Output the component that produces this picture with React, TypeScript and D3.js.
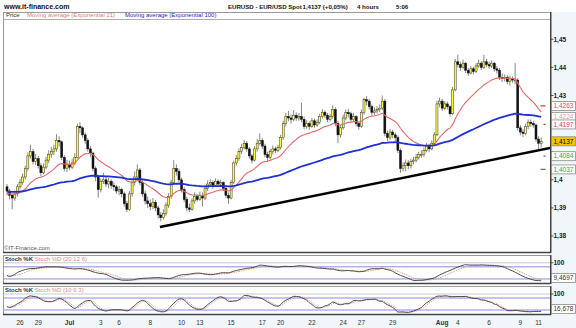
import React from 'react';
import * as d3 from 'd3';

// ---- data (4-hour EUR/USD bars) ----
const firstOpen = 1.3975;
const closes = [
  1.3960, 1.3945, 1.3935, 1.3950, 1.3975, 1.3990, 1.4010, 1.4040, 1.4085, 1.4100,
  1.4065, 1.4075, 1.4050, 1.4025, 1.4045, 1.4070, 1.4090, 1.4100, 1.4110, 1.4140,
  1.4135, 1.4080, 1.4040, 1.4055, 1.4045, 1.4060, 1.4080, 1.4190, 1.4185, 1.4160,
  1.4140, 1.4110, 1.4095, 1.4040, 1.4010, 1.3965, 1.3995, 1.4000, 1.3985, 1.3995,
  1.3980, 1.3975, 1.3960, 1.3965, 1.3950, 1.3915, 1.3895, 1.3950, 1.3990, 1.4010,
  1.4035, 1.3990, 1.3950, 1.3925, 1.3915, 1.3905, 1.3920, 1.3900, 1.3875, 1.3865,
  1.3880, 1.3910, 1.3940, 1.3990, 1.4040, 1.4030, 1.4000, 1.3965, 1.3930, 1.3900,
  1.3895, 1.3925, 1.3940, 1.3930, 1.3945, 1.3935, 1.3970, 1.3985, 1.3990, 1.3980,
  1.3995, 1.3985, 1.3990, 1.3970, 1.3945, 1.3935, 1.3990, 1.4060, 1.4075, 1.4100,
  1.4115, 1.4130, 1.4110, 1.4085, 1.4070, 1.4110, 1.4130, 1.4140, 1.4120, 1.4090,
  1.4080, 1.4100, 1.4110, 1.4105, 1.4115, 1.4150, 1.4200, 1.4225, 1.4220, 1.4215,
  1.4230, 1.4220, 1.4225, 1.4215, 1.4190, 1.4200, 1.4190, 1.4210, 1.4195, 1.4205,
  1.4225, 1.4240, 1.4230, 1.4215, 1.4225, 1.4250, 1.4200, 1.4160, 1.4185, 1.4220,
  1.4240, 1.4235, 1.4215, 1.4225, 1.4200, 1.4190, 1.4240, 1.4285, 1.4280, 1.4260,
  1.4240, 1.4245, 1.4250, 1.4255, 1.4280, 1.4165, 1.4150, 1.4170, 1.4160, 1.4150,
  1.4105, 1.4040, 1.4050, 1.4060, 1.4050, 1.4065, 1.4070, 1.4080, 1.4090, 1.4090,
  1.4105, 1.4120, 1.4110, 1.4130, 1.4160, 1.4270, 1.4280, 1.4255, 1.4270, 1.4260,
  1.4235, 1.4320, 1.4420, 1.4410, 1.4400, 1.4415, 1.4390, 1.4380, 1.4395, 1.4385,
  1.4405, 1.4415, 1.4400, 1.4420, 1.4410, 1.4405, 1.4415, 1.4395, 1.4390, 1.4365,
  1.4360, 1.4365, 1.4350, 1.4360, 1.4355, 1.4355, 1.4185, 1.4170, 1.4165, 1.4190,
  1.4205, 1.4200, 1.4195, 1.4145, 1.4130, 1.4137,
];
const highs = [
  1.3985, 1.3968, 1.3952, 1.3962, 1.3985, 1.4002, 1.4022, 1.4050, 1.4098, 1.4125,
  1.4110, 1.4092, 1.4085, 1.4060, 1.4058, 1.4082, 1.4105, 1.4118, 1.4125, 1.4162,
  1.4155, 1.4140, 1.4088, 1.4070, 1.4068, 1.4075, 1.4095, 1.4200, 1.4205, 1.4190,
  1.4168, 1.4148, 1.4120, 1.4100, 1.4048, 1.4018, 1.4005, 1.4025, 1.4010, 1.4008,
  1.4002, 1.3992, 1.3982, 1.3978, 1.3972, 1.3958, 1.3925, 1.3960, 1.4002, 1.4030,
  1.4055, 1.4042, 1.3998, 1.3962, 1.3940, 1.3930, 1.3935, 1.3928, 1.3908, 1.3885,
  1.3895, 1.3920, 1.3952, 1.4000, 1.4070, 1.4055, 1.4040, 1.4008, 1.3975, 1.3940,
  1.3915, 1.3935, 1.3955, 1.3948, 1.3958, 1.3955, 1.3980, 1.3998, 1.4002, 1.3998,
  1.4005, 1.4002, 1.4000, 1.3995, 1.3978, 1.3955, 1.4000, 1.4068, 1.4088, 1.4112,
  1.4128, 1.4142, 1.4138, 1.4118, 1.4092, 1.4120, 1.4145, 1.4165, 1.4148, 1.4128,
  1.4100, 1.4110, 1.4122, 1.4118, 1.4125, 1.4160, 1.4210, 1.4238, 1.4245, 1.4232,
  1.4248, 1.4240, 1.4238, 1.4275, 1.4225, 1.4212, 1.4208, 1.4220, 1.4218, 1.4215,
  1.4235, 1.4252, 1.4248, 1.4238, 1.4235, 1.4265, 1.4258, 1.4210, 1.4195, 1.4232,
  1.4250, 1.4252, 1.4242, 1.4238, 1.4230, 1.4208, 1.4250, 1.4292, 1.4298, 1.4288,
  1.4268, 1.4258, 1.4262, 1.4268, 1.4300, 1.4288, 1.4175, 1.4182, 1.4178, 1.4168,
  1.4158, 1.4112, 1.4062, 1.4072, 1.4070, 1.4075, 1.4082, 1.4092, 1.4100, 1.4105,
  1.4115, 1.4132, 1.4128, 1.4140, 1.4170, 1.4282, 1.4292, 1.4288, 1.4280, 1.4278,
  1.4265, 1.4330, 1.4430, 1.4445, 1.4420, 1.4428, 1.4420, 1.4398, 1.4405, 1.4402,
  1.4415, 1.4428, 1.4422, 1.4445, 1.4430, 1.4420, 1.4425, 1.4420, 1.4405, 1.4398,
  1.4378, 1.4375, 1.4372, 1.4370, 1.4368, 1.4415, 1.4362, 1.4195, 1.4180, 1.4200,
  1.4215, 1.4215, 1.4210, 1.4200, 1.4155, 1.4150,
];
const lows = [
  1.3945, 1.3930, 1.3895, 1.3925, 1.3940, 1.3965, 1.3982, 1.4000, 1.4032, 1.4075,
  1.4055, 1.4052, 1.4040, 1.4012, 1.4020, 1.4038, 1.4060, 1.4078, 1.4088, 1.4100,
  1.4118, 1.4070, 1.4030, 1.4028, 1.4035, 1.4038, 1.4052, 1.4075, 1.4165, 1.4150,
  1.4128, 1.4100, 1.4082, 1.4030, 1.3995, 1.3936, 1.3955, 1.3985, 1.3975, 1.3970,
  1.3968, 1.3960, 1.3950, 1.3945, 1.3938, 1.3905, 1.3885, 1.3890, 1.3940, 1.3980,
  1.4000, 1.3980, 1.3940, 1.3912, 1.3900, 1.3892, 1.3895, 1.3888, 1.3862, 1.3852,
  1.3858, 1.3872, 1.3900, 1.3932, 1.3982, 1.4015, 1.3990, 1.3955, 1.3920, 1.3888,
  1.3885, 1.3890, 1.3915, 1.3922, 1.3925, 1.3905, 1.3928, 1.3960, 1.3975, 1.3968,
  1.3975, 1.3975, 1.3978, 1.3960, 1.3935, 1.3915, 1.3930, 1.3985, 1.4050, 1.4068,
  1.4092, 1.4108, 1.4100, 1.4075, 1.4058, 1.4065, 1.4100, 1.4122, 1.4110, 1.4080,
  1.4065, 1.4072, 1.4090, 1.4095, 1.4098, 1.4108, 1.4142, 1.4190, 1.4208, 1.4200,
  1.4208, 1.4210, 1.4210, 1.4205, 1.4180, 1.4182, 1.4178, 1.4185, 1.4185, 1.4188,
  1.4198, 1.4218, 1.4220, 1.4205, 1.4208, 1.4218, 1.4190, 1.4130, 1.4150, 1.4178,
  1.4212, 1.4222, 1.4205, 1.4208, 1.4190, 1.4178, 1.4185, 1.4232, 1.4265, 1.4250,
  1.4228, 1.4230, 1.4235, 1.4240, 1.4248, 1.4155, 1.4138, 1.4142, 1.4148, 1.4138,
  1.4095, 1.4025, 1.4030, 1.4030, 1.4038, 1.4040, 1.4055, 1.4062, 1.4072, 1.4078,
  1.4082, 1.4098, 1.4098, 1.4105, 1.4125, 1.4155, 1.4258, 1.4245, 1.4248, 1.4250,
  1.4225, 1.4230, 1.4315, 1.4400, 1.4388, 1.4395, 1.4380, 1.4370, 1.4375, 1.4375,
  1.4380, 1.4398, 1.4390, 1.4395, 1.4400, 1.4395, 1.4398, 1.4385, 1.4378, 1.4355,
  1.4348, 1.4350, 1.4340, 1.4335, 1.4345, 1.4340, 1.4175, 1.4158, 1.4152, 1.4158,
  1.4180, 1.4188, 1.4185, 1.4135, 1.4105, 1.4115,
];
const ema21Seed = 1.3950;
const ema100Seed = 1.3958;

// x axis: first bar index of each labelled day
const dayTicks = [
  { i: 5, label: '26' }, { i: 12, label: '29' }, { i: 24, label: 'Jul', bold: true },
  { i: 36, label: '3' }, { i: 43, label: '6' }, { i: 55, label: '8' },
  { i: 67, label: '10' }, { i: 74, label: '13' }, { i: 86, label: '15' },
  { i: 98, label: '17' }, { i: 105, label: '20' }, { i: 117, label: '22' },
  { i: 129, label: '24' }, { i: 136, label: '27' }, { i: 148, label: '29' },
  { i: 167, label: 'Aug', bold: true }, { i: 173, label: '4' }, { i: 185, label: '6' },
  { i: 197, label: '9' }, { i: 204, label: '11' },
];
const priceTicks = [1.38, 1.39, 1.40, 1.41, 1.42, 1.43, 1.44, 1.45];
const levels = [
  { v: 1.4263, text: '#d85050', dash: '#e03838', dashLen: 5 },
  { v: 1.4224, text: '#e89a9a', dash: null, dashLen: 0 },
  { v: 1.4197, text: '#d83c3c', dash: '#e03838', dashLen: 2 },
  { v: 1.4137, text: '#000000', dash: null, dashLen: 0, current: true },
  { v: 1.4084, text: '#3c9a3c', dash: '#557755', dashLen: 2 },
  { v: 1.4037, text: '#3c9a3c', dash: '#3c8a3c', dashLen: 5 },
];
const trendLine = [ { i: 58.7, p: 1.3832 }, { i: 208.4, p: 1.4113 } ];
const stoch1Params = [20, 12, 6];
const stoch2Params = [10, 6, 3];
const stoch1Last = '9,4697';
const stoch2Last = '16,678';

// ---- helpers ----
const FONT = '"Liberation Sans", Arial, sans-serif';
const fmtPrice = (v: number) => v.toFixed(2).replace(/0$/, '').replace('.', ',');
const fmt4 = (v: number) => v.toFixed(4).replace('.', ',');

function ema(values: number[], period: number, seed: number) {
  const a = 2 / (period + 1);
  let e = seed;
  return values.map((c) => (e = e + a * (c - e)));
}
function sma(arr: number[], p: number) {
  return arr.map((_, i) => d3.mean(arr.slice(Math.max(0, i - p + 1), i + 1)) as number);
}
function stoch(n: number, slow: number, dp: number) {
  const raw = closes.map((c, i) => {
    const s = Math.max(0, i - n + 1);
    const hh = d3.max(highs.slice(s, i + 1)) as number;
    const ll = d3.min(lows.slice(s, i + 1)) as number;
    return hh === ll ? 50 : (100 * (c - ll)) / (hh - ll);
  });
  const k = sma(raw, slow);
  const d = sma(k, dp);
  return { k, d };
}

const W = 576, H = 328;
const PL = 3, PR = 550;
const MAIN = { top: 12, legend: 19.5, bottom: 252 };
const P1 = { top: 255, bottom: 283 };
const P2 = { top: 286, bottom: 314 };

export default function App() {
  const x = d3.scaleLinear().domain([0, 205]).range([7, 541.2]);
  const y = d3.scaleLinear().domain([1.38, 1.45]).range([236, 39.3]);
  const ys1 = d3.scaleLinear().domain([0, 100]).range([283, 262.8]);
  const ys2 = d3.scaleLinear().domain([0, 100]).range([314, 294]);

  const opens = closes.map((_, i) => (i === 0 ? firstOpen : closes[i - 1]));
  const e21 = ema(closes, 21, ema21Seed);
  const e100 = ema(closes, 100, ema100Seed);
  const s1 = stoch(stoch1Params[0], stoch1Params[1], stoch1Params[2]);
  const s2 = stoch(stoch2Params[0], stoch2Params[1], stoch2Params[2]);

  const lineP = (arr: number[]) =>
    d3.line<number>().x((_, i) => x(i)).y((v) => y(v))(arr) || '';
  const lineS = (arr: number[], sc: d3.ScaleLinear<number, number>) =>
    d3.line<number>().x((_, i) => x(i)).y((v) => sc(v)).curve(d3.curveMonotoneX)(arr) || '';

  const bw = 2;

  // tick labels that sit under a level box are hidden by it in the reference
  const visibleTicks = priceTicks.filter((t) => levels.every((l) => Math.abs(y(l.v) - y(t)) > 8));

  const panelFrame = (top: number, bottom: number) => (
    <g>
      <rect x={PL + 0.5} y={top + 0.5} width={PR - PL} height={bottom - top} fill="#fff" stroke="#9a9a9a" strokeWidth={1} />
      <line x1={PL} x2={PR + 1} y1={bottom + 0.5} y2={bottom + 0.5} stroke="#444" strokeWidth={1.6} />
      <line x1={PR + 0.8} x2={PR + 0.8} y1={top} y2={bottom + 1} stroke="#333" strokeWidth={1.3} />
    </g>
  );

  const stochPanel = (
    top: number, bottom: number, sc: d3.ScaleLinear<number, number>,
    s: { k: number[]; d: number[] }, params: number[], last: string, clipId: string,
  ) => {
    const lastY = Math.min(bottom - 5, sc(parseFloat(last.replace(',', '.'))));
    return (
      <g>
        {panelFrame(top, bottom)}
        <text x={5} y={top + 6.3} fontSize={6} fontFamily={FONT}>
          <tspan fill="#333" fontWeight="bold">Stoch %K </tspan>
          <tspan fill="#e08a8a">Stoch %D ({params.join(' ')})</tspan>
        </text>
        <line x1={PL + 1} x2={PR} y1={sc(100)} y2={sc(100)} stroke="#bdbdbd" strokeWidth={0.8} />
        <line x1={PL + 1} x2={PR} y1={sc(80)} y2={sc(80)} stroke="#8a8ae6" strokeWidth={1} />
        <line x1={PL + 1} x2={PR} y1={sc(20)} y2={sc(20)} stroke="#8a8ae6" strokeWidth={1} />
        <g clipPath={`url(#${clipId})`}>
          <path d={lineS(s.d, sc)} fill="none" stroke="#e39a9a" strokeWidth={1} strokeDasharray="1.5,1" />
          <path d={lineS(s.k, sc)} fill="none" stroke="#3a3a3a" strokeWidth={0.9} />
        </g>
        <line x1={PR + 1} x2={PR + 3.5} y1={sc(100)} y2={sc(100)} stroke="#333" strokeWidth={0.8} />
        <text x={553.5} y={sc(100) + 2.3} fontSize={6.5} fontWeight="bold" fontFamily={FONT} fill="#222">100</text>
        <rect x={551.5} y={lastY - 4.5} width={24} height={9} fill="#fff" stroke="#8a8a8a" strokeWidth={0.8} />
        <text x={553.5} y={lastY + 2.3} fontSize={6.5} fontFamily={FONT} fill="#333">{last}</text>
      </g>
    );
  };

  return (
    <svg width={W} height={H} style={{ position: 'absolute', left: 0, top: 0, background: '#fff' }}>
      <defs>
        <clipPath id="clipMain"><rect x={PL + 1} y={MAIN.legend + 0.5} width={PR - PL - 1} height={MAIN.bottom - MAIN.legend - 1} /></clipPath>
        <clipPath id="clipS1"><rect x={PL + 1} y={P1.top + 1} width={PR - PL - 1} height={P1.bottom - P1.top - 1} /></clipPath>
        <clipPath id="clipS2"><rect x={PL + 1} y={P2.top + 1} width={PR - PL - 1} height={P2.bottom - P2.top - 1} /></clipPath>
      </defs>
      {/* background areas */}
      <rect x={0} y={0} width={W} height={H} fill="#fff" />
      <rect x={PR + 1} y={MAIN.top} width={W - PR - 1} height={H - MAIN.top} fill="#f1f6fb" />
      <rect x={0} y={P2.bottom + 1} width={W} height={H - P2.bottom - 1} fill="#f1f6fb" />

      {/* header */}
      <text x={4} y={9} fontSize={7} fontWeight="bold" fontFamily={FONT} fill="#111">www.it-finance.com</text>
      <g fontSize={6.1} fontWeight="bold" fontFamily={FONT} fill="#111">
        <text x={228} y={8.8}>EURUSD - EUR/USD Spot</text>
        <text x={302.5} y={8.8}>1,4137 (+0,05%)</text>
        <text x={357} y={8.8}>4 hours</text>
        <text x={396} y={8.8}>5:06</text>
      </g>

      {/* main panel */}
      {panelFrame(MAIN.top, MAIN.bottom)}
      <line x1={PL} x2={PR} y1={MAIN.legend} y2={MAIN.legend} stroke="#9a9a9a" strokeWidth={0.8} />
      <text x={6} y={17.4} fontSize={6} fontFamily={FONT}>
        <tspan fill="#333">Price</tspan>
        <tspan x={27} fill="#e07a7a">Moving average (Exponential 21)</tspan>
        <tspan x={125} fill="#2424c8">Moving average (Exponential 100)</tspan>
      </text>

      <g clipPath="url(#clipMain)">
        {closes.map((c, i) => (
          <line key={'w' + i} x1={x(i)} x2={x(i)} y1={y(highs[i])} y2={y(lows[i])} stroke="#6a6a6a" strokeWidth={0.8} />
        ))}
        {closes.map((c, i) => {
          const o = opens[i];
          const up = c >= o;
          const top = y(Math.max(o, c));
          const h = Math.max(1, y(Math.min(o, c)) - top);
          return (
            <rect key={'b' + i} x={x(i) - bw / 2} y={top} width={bw} height={h}
              fill={up ? '#ffff3a' : '#111'} stroke={up ? '#333' : '#111'} strokeWidth={0.5} />
          );
        })}
        <path d={lineP(e21)} fill="none" stroke="#e06a6a" strokeWidth={1.1} />
        <path d={lineP(e100)} fill="none" stroke="#1f2fd6" strokeWidth={1.8} />
        <line x1={x(trendLine[0].i)} y1={y(trendLine[0].p)} x2={x(trendLine[1].i)} y2={y(trendLine[1].p)}
          stroke="#000" strokeWidth={2.4} />
        {levels.filter((l) => l.dash).map((l, k) => (
          <line key={'d' + k} x1={545.5 - l.dashLen} x2={545.5} y1={y(l.v)} y2={y(l.v)} stroke={l.dash as string} strokeWidth={1.2} />
        ))}
      </g>
      <text x={4} y={250} fontSize={6} fontFamily={FONT} fill="#555">©IT-Finance.com</text>

      {/* right price axis */}
      {priceTicks.map((t) => (
        <line key={'tk' + t} x1={PR + 1} x2={PR + 3.5} y1={y(t)} y2={y(t)} stroke="#333" strokeWidth={0.8} />
      ))}
      {visibleTicks.map((t) => (
        <text key={'t' + t} x={553.5} y={y(t) + 2.3} fontSize={6.5} fontWeight="bold" fontFamily={FONT} fill="#222">{fmtPrice(t)}</text>
      ))}
      {levels.map((l, k) => (
        <g key={'l' + k}>
          <rect x={551.5} y={y(l.v) - 4.5} width={24} height={9}
            fill={l.current ? '#f6c400' : '#fff'} stroke="#8a8a8a" strokeWidth={0.8} />
          <text x={553.5} y={y(l.v) + 2.3} fontSize={6.5} fontFamily={FONT} fill={l.text}>{fmt4(l.v)}</text>
        </g>
      ))}

      {/* stochastic panels */}
      {stochPanel(P1.top, P1.bottom, ys1, s1, stoch1Params, stoch1Last, 'clipS1')}
      {stochPanel(P2.top, P2.bottom, ys2, s2, stoch2Params, stoch2Last, 'clipS2')}

      {/* x axis labels */}
      {dayTicks.map((t) => (
        <text key={'x' + t.i} x={x(t.i)} y={325.2} textAnchor="middle" fontSize={6.5}
          fontWeight={t.bold ? 'bold' : 'normal'} fontFamily={FONT} fill="#333">{t.label}</text>
      ))}
    </svg>
  );
}
